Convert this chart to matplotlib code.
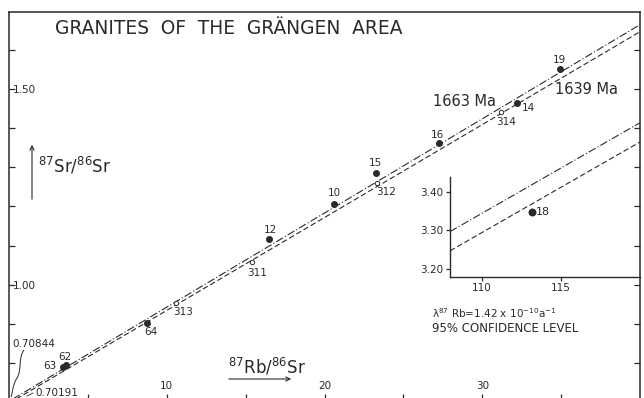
import matplotlib
matplotlib.use("Agg")
import matplotlib.pyplot as plt
from matplotlib.path import Path
from matplotlib.patches import PathPatch, FancyArrowPatch

plt.rcParams['font.family'] = ['DejaVu Sans']
plt.rcParams['mathtext.default'] = 'regular'

W, H = 644, 398
INK = '#2a2a2a'

# ---- data ----
solid_ids = ['63', '62', '64', '12', '10', '15', '16', '14', '19']
solid_rb = [3.42, 3.62, 8.75, 16.48, 20.60, 23.26, 27.26, 32.20, 34.93]
solid_sr = [0.790, 0.794, 0.902, 1.116, 1.205, 1.284, 1.361, 1.463, 1.550]

open_ids = ['313', '311', '312', '314']
open_rb = [10.59, 15.40, 23.33, 31.19]
open_sr = [0.953, 1.057, 1.259, 1.440]

inset_ids = ['18']
inset_rb = [113.2]
inset_sr = [3.348]

# isochron ends
iso1663_rb = [0.0, 40.0]
iso1663_sr = [0.702, 1.664]
iso1639_rb = [0.0, 40.0]
iso1639_sr = [0.697, 1.646]
ins1663_rb = [108.0, 120.0]
ins1663_sr = [3.297, 3.580]
ins1639_rb = [108.0, 120.0]
ins1639_sr = [3.247, 3.530]

y_ticks = [0.80, 0.90, 1.00, 1.10, 1.20, 1.30, 1.40, 1.50, 1.60]
y_tick_labels = ['', '', '1.00', '', '', '', '', '1.50', '']
x_ticks = [5, 10, 15, 20, 25, 30, 35]
x_tick_labels = ['', '10', '', '20', '', '30', '']
inset_x_ticks = [110, 115]
inset_y_ticks = [3.20, 3.30, 3.40]


def fx(px):
    return px / W


def fy(py):
    return 1 - py / H


fig = plt.figure(figsize=(W / 100, H / 100), dpi=100)
fig.patch.set_facecolor('white')

ax = fig.add_axes([fx(9), fy(400), fx(640) - fx(9), fy(12) - fy(400)])
ax.set_xlim(0, 40)
ax.set_ylim(0.7054, 1.6964)
for s in ax.spines.values():
    s.set_color(INK)
    s.set_linewidth(1.1)

ax.set_yticks(y_ticks, y_tick_labels)
ax.set_xticks(x_ticks, x_tick_labels)
ax.tick_params(axis='y', direction='in', length=4, width=0.9, color=INK,
               left=True, right=True, pad=-3, labelsize=7.5, labelcolor=INK)
for lb in ax.get_yticklabels():
    lb.set_horizontalalignment('left')
ax.tick_params(axis='x', direction='in', length=4, width=0.9, color=INK,
               pad=-14, labelsize=7.5, labelcolor=INK)

ax.plot(iso1663_rb, iso1663_sr, color=INK, lw=0.8, dashes=[7, 2, 1, 2])
ax.plot(iso1639_rb, iso1639_sr, color=INK, lw=0.8, dashes=[5, 2.5])

ax.scatter(solid_rb, solid_sr, s=16, color=INK, zorder=3)
ax.scatter(open_rb, open_sr, s=10, facecolor='white', edgecolor=INK,
           linewidth=0.7, zorder=3)

# point labels (pixel positions)
lab_pos = {'63': (50, 366), '62': (65, 357), '64': (151, 332),
           '12': (270, 230), '10': (334, 193), '15': (375, 163),
           '16': (437, 135), '14': (528, 108), '19': (559, 60),
           '313': (183, 312), '311': (257, 273), '312': (386, 192),
           '314': (506, 122)}
for k, (px, py) in lab_pos.items():
    fig.text(fx(px), fy(py), k, fontsize=7.5, color=INK,
             ha='center', va='center')

# inset
iax = fig.add_axes([fx(450), fy(277), fx(640) - fx(450), fy(177) - fy(277)])
iax.set_facecolor('none')
iax.set_xlim(108, 120)
iax.set_ylim(3.179, 3.439)
iax.spines['top'].set_visible(False)
iax.spines['right'].set_visible(False)
for sp in ('left', 'bottom'):
    iax.spines[sp].set_color(INK)
    iax.spines[sp].set_linewidth(1.0)
iax.set_xticks(inset_x_ticks, [str(v) for v in inset_x_ticks])
iax.set_yticks(inset_y_ticks, ['%.2f' % v for v in inset_y_ticks])
iax.tick_params(direction='out', length=3, width=0.9, color=INK,
                labelsize=7.5, labelcolor=INK, pad=1.5)
iax.plot(ins1663_rb, ins1663_sr, color=INK, lw=0.8, dashes=[7, 2, 1, 2],
         clip_on=False)
iax.plot(ins1639_rb, ins1639_sr, color=INK, lw=0.8, dashes=[5, 2.5],
         clip_on=False)
iax.scatter(inset_rb, inset_sr, s=22, color=INK, zorder=3)
fig.text(fx(543), fy(212), '18', fontsize=8, color=INK, ha='center',
         va='center')

# titles and labels
fig.text(fx(55), fy(29), 'GRANITES  OF  THE  GRÄNGEN  AREA', fontsize=13.4,
         color=INK, ha='left', va='center')
fig.text(fx(433), fy(101), '1663 Ma', fontsize=10.5, color=INK,
         ha='left', va='center')
fig.text(fx(555), fy(89), '1639 Ma', fontsize=10.5, color=INK,
         ha='left', va='center')
fig.text(fx(38), fy(166), r'$^{87}$Sr/$^{86}$Sr', fontsize=12, color=INK,
         ha='left', va='center')
fig.text(fx(228), fy(367), r'$^{87}$Rb/$^{86}$Sr', fontsize=12, color=INK,
         ha='left', va='center')
fig.text(fx(432), fy(313), r'$\lambda^{87}$ Rb=1.42 x 10$^{-10}$a$^{-1}$',
         fontsize=7.5, color=INK, ha='left', va='center')
fig.text(fx(432), fy(328), '95% CONFIDENCE LEVEL', fontsize=8.5, color=INK,
         ha='left', va='center')
fig.text(fx(12), fy(344), '0.70844', fontsize=7.5, color=INK, ha='left',
         va='center')
fig.text(fx(35), fy(393), '0.70191', fontsize=7.5, color=INK, ha='left',
         va='center')

# arrows
fig.patches.append(FancyArrowPatch((fx(32), fy(202)), (fx(32), fy(142)),
                                   transform=fig.transFigure,
                                   arrowstyle='->,head_length=3,head_width=1.5',
                                   color=INK, lw=0.8))
fig.patches.append(FancyArrowPatch((fx(226), fy(379)), (fx(294), fy(379)),
                                   transform=fig.transFigure,
                                   arrowstyle='->,head_length=3,head_width=1.5',
                                   color=INK, lw=0.8))

# wavy brace and leader
verts = [(fx(24), fy(350)), (fx(18), fy(358)), (fx(22), fy(370)),
         (fx(17), fy(378)), (fx(12), fy(386)), (fx(13), fy(392)),
         (fx(11), fy(397))]
codes = [Path.MOVETO, Path.CURVE4, Path.CURVE4, Path.CURVE4,
         Path.CURVE4, Path.CURVE4, Path.CURVE4]
fig.patches.append(PathPatch(Path(verts, codes), transform=fig.transFigure,
                             facecolor='none', edgecolor=INK, lw=0.7))
fig.lines.append(plt.Line2D([fx(27), fx(33)], [fy(396), fy(393)],
                            transform=fig.transFigure, color=INK, lw=0.6))

fig.savefig('out.png', dpi=100)
